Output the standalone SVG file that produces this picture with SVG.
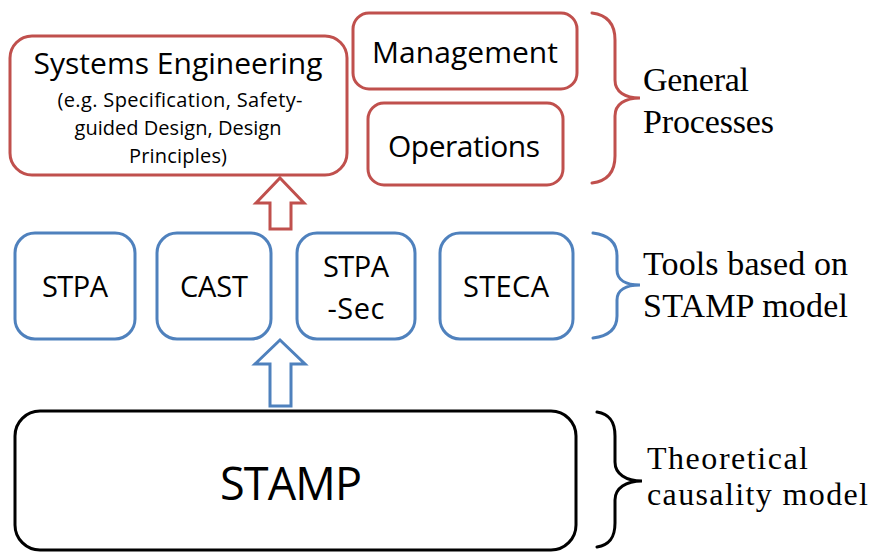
<svg xmlns="http://www.w3.org/2000/svg" width="872" height="552" viewBox="0 0 872 552">
<style>
.box{fill:#fff;stroke-width:3}
.red{stroke:#C0504D}
.blue{stroke:#4F81BD}
.blk{stroke:#000}
.sans{font-family:"Open Sans","Liberation Sans",sans-serif;fill:#000;text-anchor:middle}
.serif{font-family:"Liberation Serif","Times New Roman",serif;fill:#000}
.brace{fill:none;stroke-width:3;stroke-linecap:round}
.arrow{fill:#fff;stroke-width:3;stroke-linejoin:miter}
</style>
<rect width="872" height="552" fill="#fff"/>
<g id="connectors">
<polygon class="arrow red" points="280,178 304,203 291,203 291,229 270,229 270,203 256,203"/>
<polygon class="arrow blue" points="280,340 305,364 291,364 291,406 270,406 270,364 255,364"/>
</g>
<g id="systems-engineering">
<rect class="box red" x="10" y="36" width="337" height="139" rx="22"/>
<text class="sans" x="178" y="74" font-size="30" textLength="289">Systems Engineering</text>
<text class="sans" x="180" y="107" font-size="20" textLength="245">(e.g. Specification, Safety-</text>
<text class="sans" x="178" y="135" font-size="20" textLength="207">guided Design, Design</text>
<text class="sans" x="178" y="163" font-size="20" textLength="98">Principles)</text>
</g>
<g id="management">
<rect class="box red" x="353" y="13" width="224" height="76" rx="16"/>
<text class="sans" x="465" y="63" font-size="30" textLength="186">Management</text>
</g>
<g id="operations">
<rect class="box red" x="368" y="103" width="195" height="82" rx="16"/>
<text class="sans" x="464" y="157" font-size="30" textLength="152">Operations</text>
</g>
<g id="general-processes">
<path class="brace red" d="M592,13 C608,15 615,24 615,40 L615,80 C615,92 625,98 640,98 C625,98 615,104 615,116 L615,156 C615,172 608,181 592,183"/>
<text class="serif" x="643" y="91" font-size="34" textLength="106">General</text>
<text class="serif" x="643" y="133" font-size="34" textLength="131">Processes</text>
</g>
<g id="stpa">
<rect class="box blue" x="15" y="233" width="120" height="106" rx="20"/>
<text class="sans" x="75" y="297" font-size="29" textLength="66">STPA</text>
</g>
<g id="cast">
<rect class="box blue" x="157" y="233" width="114" height="106" rx="20"/>
<text class="sans" x="214" y="297" font-size="29" textLength="68">CAST</text>
</g>
<g id="stpa-sec">
<rect class="box blue" x="297" y="233" width="118" height="106" rx="20"/>
<text class="sans" x="356" y="277" font-size="29" textLength="66">STPA</text>
<text class="sans" x="356" y="319" font-size="29" textLength="57">-Sec</text>
</g>
<g id="steca">
<rect class="box blue" x="440" y="233" width="133" height="106" rx="20"/>
<text class="sans" x="506" y="297" font-size="29" textLength="86">STECA</text>
</g>
<g id="tools">
<path class="brace blue" d="M593,233 C609,235 617,243 617,256 L617,270 C617,280 626,285 640,285 C626,285 617,290 617,300 L617,316 C617,329 609,336 593,338"/>
<text class="serif" x="643" y="275" font-size="34" textLength="205">Tools based on</text>
<text class="serif" x="643" y="317" font-size="34" textLength="205">STAMP model</text>
</g>
<g id="stamp">
<rect class="box blk" x="15" y="411" width="561" height="139" rx="25" stroke-width="3.5"/>
<text class="sans" x="291" y="500" font-size="45" textLength="142">STAMP</text>
</g>
<g id="theoretical">
<path class="brace blk" stroke-width="2.5" d="M597,412 C610,414 615,422 615,436 L615,462 C615,474 626,481 642,481 C626,481 615,488 615,500 L615,523 C615,537 610,545 597,547"/>
<text class="serif" x="647" y="469" font-size="32" textLength="161">Theoretical</text>
<text class="serif" x="647" y="505" font-size="32" textLength="221">causality model</text>
</g>
</svg>
